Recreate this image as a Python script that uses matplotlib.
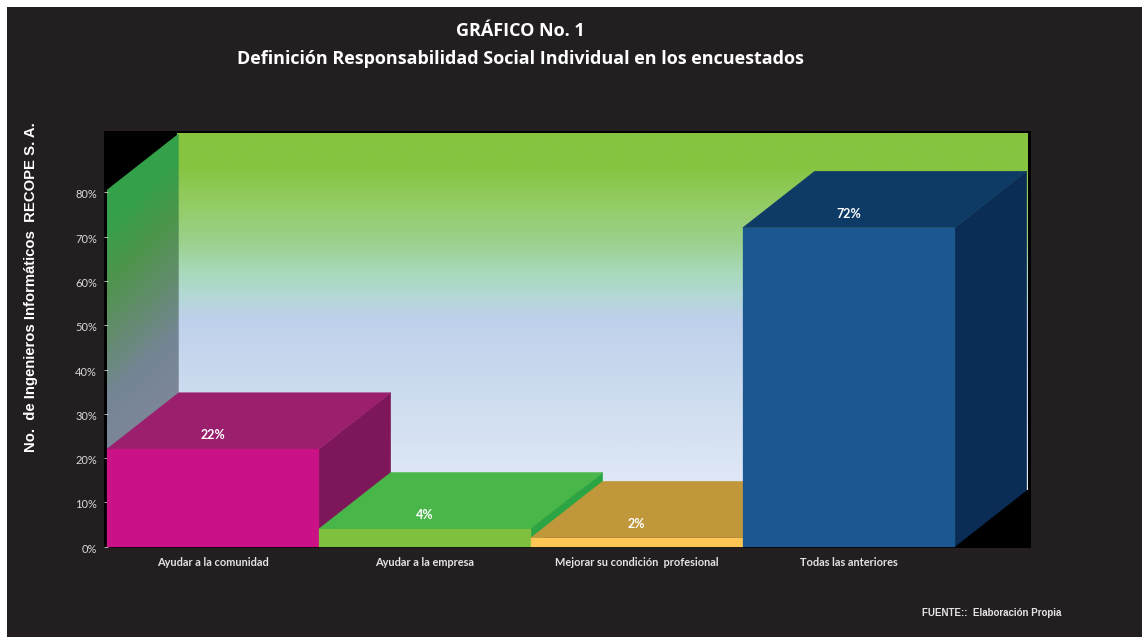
import numpy as np
import matplotlib
matplotlib.use("Agg")
import matplotlib.pyplot as plt
from matplotlib.patches import Polygon, Rectangle
from matplotlib.colors import LinearSegmentedColormap
from matplotlib.transforms import ScaledTranslation

categories = ["Ayudar a la comunidad", "Ayudar a la empresa",
              "Mejorar su condición  profesional", "Todas las anteriores"]
values = [22, 4, 2, 72]
value_labels = ["22%", "4%", "2%", "72%"]
yticks = [0, 10, 20, 30, 40, 50, 60, 70, 80]
ytick_labels = ["0%", "10%", "20%", "30%", "40%", "50%", "60%", "70%", "80%"]

front_colors = ["#CB1186", "#80C03F", "#FFC655", "#1B588F"]
top_colors = ["#9C1F6E", "#49B649", "#C0973A", "#0E3B66"]
side_colors = ["#7D1759", "#2BA544", "#A8842F", "#0B2C54"]

W, H = 1142, 637
BG = "#231F20"
PX_X = 212.0     # pixels per category
PX_Y = 4.43      # pixels per percent
X0, Y0 = 106.7, 546.7   # pixel position of the front-left origin
AX_L, AX_R, AX_T, AX_B = 104, 1031, 131, 547.5
DX = 72 / PX_X   # depth offset in data units
DY = 56.5 / PX_Y

fig = plt.figure(figsize=(W / 100, H / 100), dpi=100, facecolor="white")
fig.patches.append(Rectangle((7 / W, 0), 1 - 7 / W, 1 - 7 / H, transform=fig.transFigure,
                             facecolor=BG, edgecolor="none", zorder=-10))
ax = fig.add_axes([AX_L / W, 1 - AX_B / H, (AX_R - AX_L) / W, (AX_B - AX_T) / H])
ax.set_facecolor("black")
xlim = (-0.5 + (AX_L - X0) / PX_X, -0.5 + (AX_R - X0) / PX_X)
ylim = ((Y0 - AX_B) / PX_Y, (Y0 - AX_T) / PX_Y)

left = -0.5
right_back = -0.5 + (1027 - X0) / PX_X
top_back = (Y0 - 133.5) / PX_Y
top_front = top_back - DY

# Back wall gradient
wall_cmap = LinearSegmentedColormap.from_list("wall", [
    (0.00, "#86C440"), (0.09, "#86C440"), (0.20, "#94CC66"), (0.30, "#9BD08A"),
    (0.40, "#A9DAC0"), (0.46, "#B4D8D6"), (0.52, "#BED0EA"), (0.75, "#CFDDF0"), (1.00, "#E0E9F6")])
wall = ax.imshow(np.linspace(0, 1, 512)[:, None], cmap=wall_cmap, aspect="auto",
                 extent=(left + DX - 0.01, right_back, DY, top_back), origin="upper", zorder=1)

# Side wall gradient, slanted
sx, sy = np.meshgrid(np.linspace(0, 1, 64), np.linspace(0, 1, 256))
side_cmap = LinearSegmentedColormap.from_list("side", [
    (0.00, "#2FA24B"), (0.25, "#36A04A"), (0.40, "#4E954C"), (0.55, "#628C6C"),
    (0.72, "#758596"), (1.00, "#82899A")])
side = ax.imshow(np.clip((sy + 0.16 * sx) / 0.9, 0, 1), cmap=side_cmap, aspect="auto",
                 extent=(left, left + DX, 0, top_back), origin="upper", zorder=1.1)
side_poly = Polygon([(left, 0), (left, top_front), (left + DX, top_back), (left + DX, DY)],
                    transform=ax.transData, facecolor="none", edgecolor="none")
ax.add_patch(side_poly)
side.set_clip_path(side_poly)

# Bars
for i, (v, fc, tc, sc) in enumerate(zip(values, front_colors, top_colors, side_colors)):
    x0, x1 = i - 0.5, i + 0.5
    ax.add_patch(Polygon([(x1, 0), (x1 + DX, DY), (x1 + DX, v + DY), (x1, v)],
                         facecolor=sc, edgecolor=sc, lw=0.3, zorder=2 + i))
    ax.add_patch(Polygon([(x0, v), (x0 + DX, v + DY), (x1 + DX, v + DY), (x1, v)],
                         facecolor=tc, edgecolor=tc, lw=0.3, zorder=2 + i))
    ax.bar(i, v, width=1.0, color=fc, edgecolor=fc, lw=0.2, zorder=2.5 + i)
    ax.text(i, v + 3.2, value_labels[i], ha="center", va="center", color="white",
            fontsize=9, fontweight="bold", family="Lato", zorder=10)

ax.set_xlim(xlim)
ax.set_ylim(ylim)
for s in ax.spines.values():
    s.set_visible(False)
ax.set_xticks(range(len(categories)), categories, family="Lato", fontweight="bold",
              fontsize=7.9, color="#E4E4E4")
ax.tick_params(axis="x", length=0, pad=7)
ax.set_yticks(yticks, ytick_labels, family="Lato", fontsize=8, color="#D8D8D8")
ax.tick_params(axis="y", direction="in", length=3, width=0.6, color="#CCCCCC", pad=5, zorder=20)
shift = ScaledTranslation(0, -1.5 / 100, fig.dpi_scale_trans)
for lab in ax.get_yticklabels():
    lab.set_transform(lab.get_transform() + shift)

ax.set_ylabel("No.  de Ingenieros Informáticos  RECOPE S. A.", family="Liberation Sans",
              fontweight="bold", fontsize=10.7, color="white")
ax.yaxis.set_label_coords((38 - AX_L) / (AX_R - AX_L), (AX_B - 287.5) / (AX_B - AX_T))

fig.suptitle("GRÁFICO No. 1\nDefinición Responsabilidad Social Individual en los encuestados",
             x=520 / W, y=1 - 22.5 / H, va="top", ha="center", color="white", family="Open Sans",
             fontweight="bold", fontsize=13, linespacing=1.68)
fig.text(1061 / W, 1 - 612.5 / H, "FUENTE::  Elaboración Propia", ha="right", va="center",
         color="#E4E4E4", family="Liberation Sans", fontweight="bold", fontsize=7)

fig.savefig("out.png", dpi=100, facecolor=fig.get_facecolor())
